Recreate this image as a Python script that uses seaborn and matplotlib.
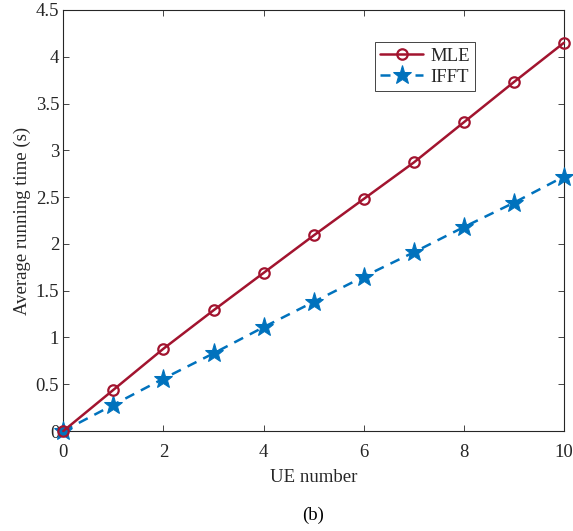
import matplotlib
matplotlib.use("Agg")
import matplotlib.pyplot as plt
import seaborn as sns
import pandas as pd

ue_number = [0, 1, 2, 3, 4, 5, 6, 7, 8, 9, 10]
mle_time = [0.0, 0.44, 0.88, 1.29, 1.69, 2.09, 2.48, 2.87, 3.30, 3.73, 4.15]
ifft_time = [0.0, 0.28, 0.56, 0.83, 1.11, 1.38, 1.65, 1.91, 2.18, 2.44, 2.72]
x_ticks = [0, 2, 4, 6, 8, 10]
y_ticks = [0, 0.5, 1, 1.5, 2, 2.5, 3, 3.5, 4, 4.5]
y_tick_labels = ["0", "0.5", "1", "1.5", "2", "2.5", "3", "3.5", "4", "4.5"]

sns.set_style("ticks")
plt.rcParams["font.family"] = ["Liberation Serif", "DejaVu Serif"]

df = pd.DataFrame({
    "UE number": ue_number * 2,
    "time": mle_time + ifft_time,
    "method": ["MLE"] * len(ue_number) + ["IFFT"] * len(ue_number),
})

fig = plt.figure(figsize=(5.73, 5.31), dpi=100)
ax = fig.add_axes([0.1105, 0.1883, 0.8738, 0.7929])

red = "#A2142F"
blue = "#0072BD"

sns.lineplot(data=df[df.method == "MLE"], x="UE number", y="time", ax=ax,
             color=red, lw=1.8, marker="o", markersize=7.5,
             markerfacecolor="none", markeredgecolor=red, markeredgewidth=1.6,
             label="MLE", zorder=4, clip_on=False)
sns.lineplot(data=df[df.method == "IFFT"], x="UE number", y="time", ax=ax,
             color=blue, lw=1.8, marker="*", markersize=14,
             markerfacecolor=blue, markeredgecolor=blue,
             label="IFFT", zorder=3, clip_on=False)
ax.lines[1].set_dashes([4, 3])

ax.set_xlim(0, 10)
ax.set_ylim(0, 4.5)
ax.set_xticks(x_ticks)
ax.set_yticks(y_ticks)
ax.set_yticklabels(y_tick_labels)

edge = "#262626"
for s in ax.spines.values():
    s.set_visible(True)
    s.set_color(edge)
    s.set_linewidth(0.8)
ax.tick_params(direction="in", top=True, right=True, length=4, width=0.6,
               colors=edge, labelsize=13.5)
ax.tick_params(axis="x", pad=9)
ax.tick_params(axis="y", pad=3)

ax.set_xlabel("UE number", fontsize=13.5, color=edge, labelpad=6)
ax.set_ylabel("Average running time (s)", fontsize=13.5, color=edge, labelpad=3)

leg = ax.legend(loc="upper left", bbox_to_anchor=(0.622, 0.924),
                borderaxespad=0, fancybox=False, fontsize=13.5,
                handlelength=2.3, handletextpad=0.35, borderpad=0.3,
                labelspacing=0.2, framealpha=1)
leg.get_frame().set_edgecolor(edge)
leg.get_frame().set_linewidth(0.6)

fig.text(0.5465, 0.030, "(b)", ha="center", va="center", fontsize=13.5,
         color="black")

fig.savefig("out.png", dpi=100)
